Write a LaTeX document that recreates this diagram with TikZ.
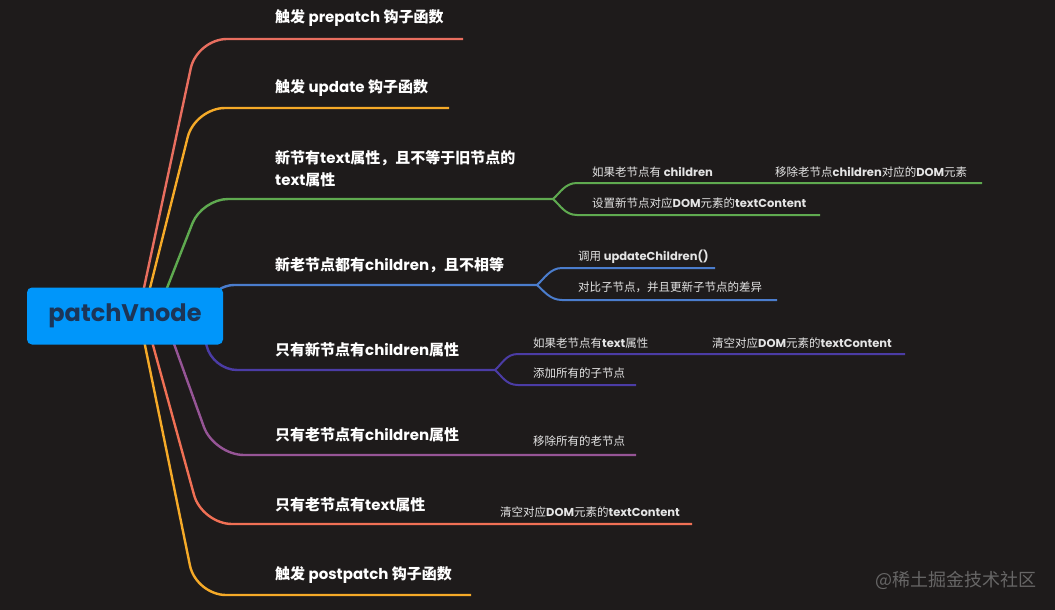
\documentclass[tikz,border=0pt]{standalone}
\usepackage{fontspec}
\newfontfamily\cjk{Noto Sans CJK SC}
\newfontfamily\enf{Poppins}
\usetikzlibrary{positioning}
\usetikzlibrary{calc}

\definecolor{bg}{HTML}{1E1B1B}
\definecolor{rootblue}{HTML}{0096FA}
\definecolor{rootnavy}{HTML}{1C3557}
\definecolor{subwhite}{HTML}{E4E4E4}
\definecolor{cPre}{HTML}{E86E5F}
\definecolor{cGold}{HTML}{F5AA28}
\definecolor{cText}{HTML}{5FAA50}
\definecolor{cBoth}{HTML}{4B7DCD}
\definecolor{cNew}{HTML}{4B3CA5}
\definecolor{cOld}{HTML}{965596}
\definecolor{cCoral}{HTML}{F07055}

\newcommand{\entxt}[1]{{\enf\bfseries #1}}

\begin{document}
\begin{tikzpicture}
        [
            x=1pt, y=-1pt,
            root/.style={rectangle, rounded corners=5pt, fill=rootblue, text=rootnavy, minimum width=196pt, minimum height=57pt, font=\enf\bfseries\fontsize{24}{28}\selectfont},
            topic/.style={anchor=west, inner sep=0pt, text=white, align=left, font=\cjk\bfseries\fontsize{15}{22}\selectfont},
            sub/.style={anchor=west, inner sep=0pt, text=subwhite, font=\cjk\fontsize{11.5}{14}\selectfont},
            branch/.style={draw=#1, line width=2.4pt, rounded corners=30pt},
            twig/.style={draw=#1, line width=2pt}
        ]
        \useasboundingbox (0,0) rectangle (1055,610);
        \fill[bg] (0,0) rectangle (1055,610);
        %ends of the lines
        \coordinate (hub)           at (125,316);
        \coordinate (pre_end)       at (463,39);
        \coordinate (upd_end)       at (449,108);
        \coordinate (text_fork)     at (553,199);
        \coordinate (ifoldch_end)   at (760,183);
        \coordinate (rmdom_end)     at (982,183);
        \coordinate (settext_end)   at (820,215);
        \coordinate (both_fork)     at (537,285);
        \coordinate (callupd_end)   at (715,268);
        \coordinate (diff_end)      at (777,300);
        \coordinate (new_fork)      at (495,370);
        \coordinate (ifoldtext_end) at (700,354);
        \coordinate (cleardom_end)  at (905,354);
        \coordinate (addall_end)    at (636,385);
        \coordinate (oldch_end)     at (520,455);
        \coordinate (rmall_end)     at (636,455);
        \coordinate (oldtext_end)   at (490,524);
        \coordinate (cleartext_end) at (692,524);
        \coordinate (post_end)      at (471,595);
        %main branches
        \draw[branch=cPre]   ($(hub)+(13,0)$) -- (197,39) -- (pre_end);
        \draw[branch=cGold]  ($(hub)+(18,0)$) -- (195,108) -- (upd_end);
        \draw[branch=cText, rounded corners=26pt] ($(hub)+(31,0)$) -- (202,199) -- (text_fork);
        \draw[branch=cBoth, rounded corners=20pt] ($(hub)+(75,0)$) -- (214,285) -- (both_fork);
        \draw[branch=cNew, rounded corners=25pt]  ($(hub)+(75,0)$) -- (212,370) -- (new_fork);
        \draw[branch=cOld]   ($(hub)+(39,0)$) -- (214,455) -- (oldch_end) -- (rmall_end);
        \draw[branch=cCoral] ($(hub)+(20,0)$) -- (202,524) -- (oldtext_end) -- (cleartext_end);
        \draw[branch=cGold]  ($(hub)+(14,0)$) -- (196,595) -- (post_end);
        %sub branches
        \draw[twig=cText] (text_fork) .. controls +(7,-6) and +(-12,0) .. (577,183) -- (ifoldch_end) -- (rmdom_end);
        \draw[twig=cText] (text_fork) .. controls +(7,6) and +(-12,0) .. (577,215) -- (settext_end);
        \draw[twig=cBoth] (both_fork) .. controls +(7,-6) and +(-12,0) .. (562,268) -- (callupd_end);
        \draw[twig=cBoth] (both_fork) .. controls +(7,6) and +(-12,0) .. (562,300) -- (diff_end);
        \draw[twig=cNew]  (new_fork) .. controls +(7,-6) and +(-12,0) .. (518,354) -- (ifoldtext_end) -- (cleardom_end);
        \draw[twig=cNew]  (new_fork) .. controls +(7,6) and +(-12,0) .. (518,385) -- (addall_end);
        %root
        \node[root] (root) at (hub) {patchVnode};
        %topics
        \node[topic] (prepatch)  at (275,18)  {触发 \entxt{prepatch} 钩子函数};
        \node[topic] (update)    at (275,88)  {触发 \entxt{update} 钩子函数};
        \node[topic] (newtext)   at (275,169) {新节有\entxt{text}属性，且不等于旧节点的\\\entxt{text}属性};
        \node[topic] (bothch)    at (275,265) {新老节点都有\entxt{children}，且不相等};
        \node[topic] (newch)     at (275,350) {只有新节点有\entxt{children}属性};
        \node[topic] (oldch)     at (275,435) {只有老节点有\entxt{children}属性};
        \node[topic] (oldtext)   at (275,505) {只有老节点有\entxt{text}属性};
        \node[topic] (postpatch) at (275,575) {触发 \entxt{postpatch} 钩子函数};
        %subtopics
        \node[sub] (ifoldch)   at (592,172) {如果老节点有 \entxt{children}};
        \node[sub] (rmdom)     at (775,172) {移除老节点\entxt{children}对应的\entxt{DOM}元素};
        \node[sub] (settext)   at (592,203) {设置新节点对应\entxt{DOM}元素的\entxt{textContent}};
        \node[sub] (callupd)   at (578,257) {调用 \entxt{updateChildren()}};
        \node[sub] (diff)      at (578,287) {对比子节点，并且更新子节点的差异};
        \node[sub] (ifoldtext) at (533,343) {如果老节点有\entxt{text}属性};
        \node[sub] (cleardom)  at (712,343) {清空对应\entxt{DOM}元素的\entxt{textContent}};
        \node[sub] (addall)    at (533,373) {添加所有的子节点};
        \node[sub] (rmall)     at (533,441) {移除所有的老节点};
        \node[sub] (cleartext) at (500,512) {清空对应\entxt{DOM}元素的\entxt{textContent}};
        %mark
        \node[anchor=west, inner sep=0pt, text=gray!75!bg, font=\cjk\fontsize{18}{20}\selectfont] (mark) at (875,580) {@稀土掘金技术社区};
    \end{tikzpicture}
\end{document}
